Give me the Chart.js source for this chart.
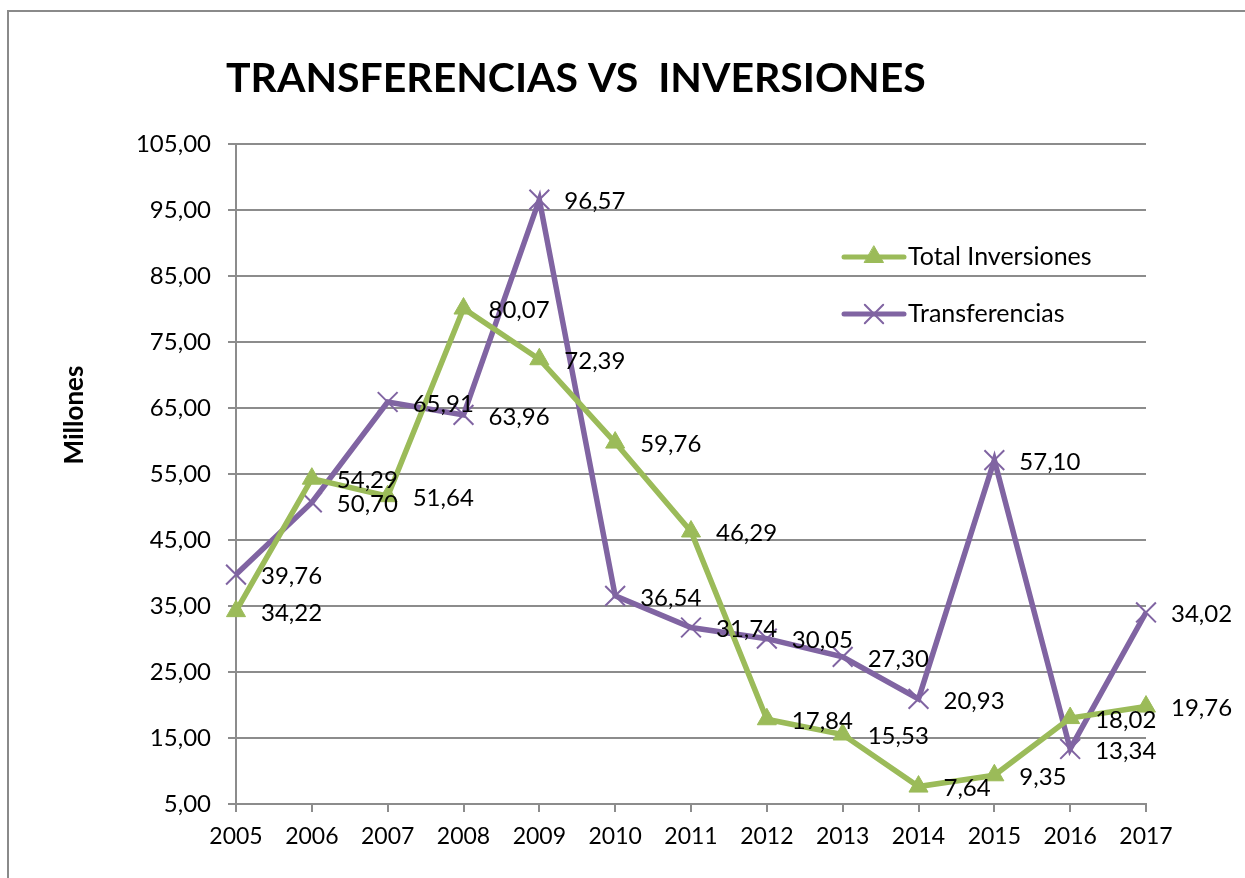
<!DOCTYPE html>
<html>
<head>
<meta charset="utf-8">
<script src="https://cdn.jsdelivr.net/npm/chart.js@4.4.1/dist/chart.umd.min.js"></script>
<style>
    html, body { margin: 0; padding: 0; background: #fff; }
    #wrap { position: relative; width: 1245px; height: 878px; overflow: hidden; }
    #frame { position: absolute; left: 7px; top: 10px; right: -10px; bottom: -10px;
             border-left: 2px solid #8a8a8a; border-top: 2px solid #8a8a8a; }
    canvas { position: absolute; left: 0; top: 0; }
</style>
</head>
<body>
<div id="wrap">
    <div id="frame"></div>
    <canvas id="chart" width="1245" height="878"></canvas>
</div>
<script>
const years = ["2005", "2006", "2007", "2008", "2009", "2010", "2011", "2012", "2013", "2014", "2015", "2016", "2017"];
const totalInversiones = [34.22, 54.29, 51.64, 80.07, 72.39, 59.76, 46.29, 17.84, 15.53, 7.64, 9.35, 18.02, 19.76];
const transferencias = [39.76, 50.70, 65.91, 63.96, 96.57, 36.54, 31.74, 30.05, 27.30, 20.93, 57.10, 13.34, 34.02];
const chartTitle = "TRANSFERENCIAS VS  INVERSIONES";
const axisTitle = "Millones";

const GREEN = "#9BBB59";
const PURPLE = "#8064A2";
const GRID = "#8c8c8c";
const FONT = "Lato, 'Liberation Sans', sans-serif";

function fmt(v) {
    return v.toFixed(2).replace(".", ",");
}

// title, axis title, point labels and legend drawn by hand so they sit like the original
const extras = {
    id: "extras",
    afterDatasetsDraw(chart) {
        const ctx = chart.ctx;
        ctx.save();
        ctx.fillStyle = "#000";
        ctx.font = "24px " + FONT;
        ctx.textAlign = "left";
        ctx.textBaseline = "middle";
        chart.data.datasets.forEach((ds, i) => {
            chart.getDatasetMeta(i).data.forEach((pt, j) => {
                ctx.fillText(fmt(ds.data[j]), pt.x + 25, pt.y + 2);
            });
        });

        ctx.font = "bold 41px " + FONT;
        ctx.fillText(chartTitle, 226, 79);

        ctx.save();
        ctx.translate(75, 415);
        ctx.rotate(-Math.PI / 2);
        ctx.textAlign = "center";
        ctx.font = "bold 26px " + FONT;
        ctx.fillText(axisTitle, 0, 0);
        ctx.restore();

        // legend
        const items = [
            { label: "Total Inversiones", color: GREEN, style: "triangle", r: 11 },
            { label: "Transferencias", color: PURPLE, style: "crossRot", r: 13 }
        ];
        items.forEach((it, k) => {
            const y = 257 + k * 57;
            ctx.strokeStyle = it.color;
            ctx.lineWidth = 5;
            ctx.lineCap = "round";
            ctx.beginPath();
            ctx.moveTo(844, y);
            ctx.lineTo(904, y);
            ctx.stroke();
            ctx.fillStyle = it.color;
            ctx.lineWidth = it.style === "triangle" ? 1 : 2;
            Chart.helpers.drawPoint(ctx, { pointStyle: it.style, radius: it.r, borderWidth: ctx.lineWidth }, 874, y);
            ctx.fillStyle = "#000";
            ctx.font = "25px " + FONT;
            ctx.fillText(it.label, 908, y);
        });
        ctx.restore();
    }
};

new Chart(document.getElementById("chart"), {
    type: "line",
    data: {
        labels: years,
        datasets: [
            {
                label: "Total Inversiones",
                data: totalInversiones,
                borderColor: GREEN,
                backgroundColor: GREEN,
                borderWidth: 5.5,
                pointStyle: "triangle",
                pointRadius: 11,
                pointBorderWidth: 1,
                tension: 0
            },
            {
                label: "Transferencias",
                data: transferencias,
                borderColor: PURPLE,
                backgroundColor: PURPLE,
                borderWidth: 5.5,
                pointStyle: "crossRot",
                pointRadius: 14,
                pointBorderWidth: 2,
                tension: 0
            }
        ]
    },
    options: {
        responsive: false,
        animation: false,
        layout: { padding: { left: 60, top: 144, right: 99, bottom: 0 } },
        plugins: {
            legend: { display: false },
            tooltip: { enabled: false }
        },
        scales: {
            x: {
                offset: false,
                grid: { drawOnChartArea: false, drawTicks: true, tickLength: 8, color: GRID, lineWidth: 2 },
                border: { color: GRID, width: 2 },
                ticks: { color: "#000", font: { family: FONT, size: 23 }, padding: 11, maxRotation: 0 },
                afterFit(scale) { scale.height = 74; }
            },
            y: {
                min: 5,
                max: 105,
                ticks: {
                    stepSize: 10,
                    color: "#000",
                    font: { family: FONT, size: 24 },
                    padding: 17,
                    callback: v => fmt(v)
                },
                grid: { color: GRID, lineWidth: 2, tickLength: 8 },
                border: { color: GRID, width: 2 },
                afterFit(scale) { scale.width = 176; }
            }
        }
    },
    plugins: [extras]
});
</script>
</body>
</html>
